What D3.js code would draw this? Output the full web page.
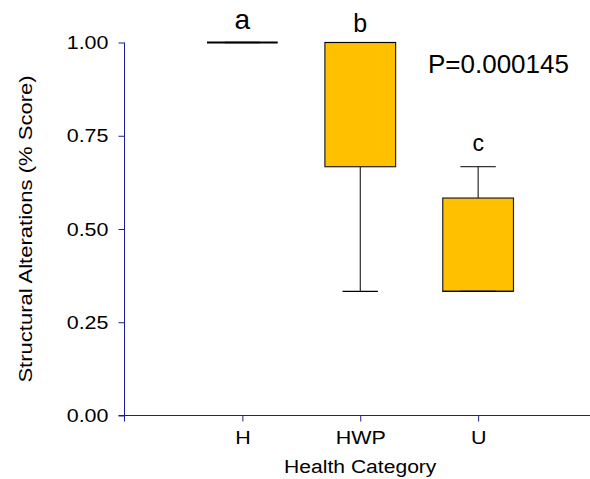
<!DOCTYPE html>
<html>
<head>
<meta charset="utf-8">
<script src="https://cdn.jsdelivr.net/npm/d3@7"></script>
<style>
  html, body { margin: 0; padding: 0; background: #fff; }
  svg { display: block; font-family: "Liberation Sans", Arial, sans-serif; }
</style>
</head>
<body>
<svg id="chart" width="590" height="479"></svg>
<script>
// Box-plot summary per health category
const categories = ["H", "HWP", "U"];
const whiskerLow = [1.0, 0.333, 0.333];
const q1 = [1.0, 0.667, 0.333];
const median = [1.0, 1.0, 0.333];
const q3 = [1.0, 1.0, 0.583];
const whiskerHigh = [1.0, 1.0, 0.667];
const groupLetters = ["a", "b", "c"];
const yTicks = [0, 0.25, 0.5, 0.75, 1.0];
const pValueLabel = "P=0.000145";

const svg = d3.select("#chart");
const axisColor = "#1c1c94";
const boxFill = "#ffc000";
const wide = 1.13;  // horizontal stretch of the label type

const x = d3.scaleLinear().domain([0, 4]).range([124.5, 596]);
const y = d3.scaleLinear().domain([0, 1]).range([415.5, 42.5]);

const boxW = 0.6;   // box width in category units
const capW = 0.3;   // whisker cap width in category units

const data = categories.map((c, i) => ({
  cat: c, i: i + 1,
  lo: whiskerLow[i], q1: q1[i], med: median[i], q3: q3[i], hi: whiskerHigh[i],
  letter: groupLetters[i]
}));

// Axes
const yAxis = d3.axisLeft(y).tickValues(yTicks).tickFormat(d3.format(".2f")).tickSize(6).tickPadding(9);
const gy = svg.append("g").attr("transform", `translate(${x(0)},0)`).call(yAxis);
gy.select(".domain").remove();
gy.append("line").attr("x1", 0).attr("x2", 0).attr("y1", y(0) + 6).attr("y2", y(1))
  .attr("stroke", axisColor);
gy.selectAll(".tick line").attr("stroke", axisColor);
gy.selectAll(".tick text").attr("fill", "#000").attr("font-size", 19)
  .attr("font-family", "Liberation Sans, Arial, sans-serif")
  .attr("x", 0).attr("transform", `translate(-16,0) scale(${wide},1)`);

const xAxis = d3.axisBottom(x).tickValues([1, 2, 3]).tickFormat(d => categories[d - 1])
  .tickSize(6).tickPadding(9);
const gx = svg.append("g").attr("transform", `translate(0,${y(0)})`).call(xAxis);
gx.select(".domain").remove();
gx.append("line").attr("x1", x(0) - 6).attr("x2", 590).attr("y1", 0).attr("y2", 0)
  .attr("stroke", axisColor);
gx.selectAll(".tick line").attr("stroke", axisColor);
gx.selectAll(".tick text").attr("fill", "#000").attr("font-size", 19)
  .attr("font-family", "Liberation Sans, Arial, sans-serif")
  .attr("y", 0).attr("transform", `translate(0,15) scale(${wide},1)`);

// Axis titles
svg.append("text")
  .attr("transform", `translate(32,${(y(0) + y(1)) / 2}) rotate(-90) scale(1.16,1)`)
  .attr("text-anchor", "middle").attr("font-size", 19).text("Structural Alterations (% Score)");
svg.append("text")
  .attr("transform", `translate(${x(2)},472.5) scale(1.11,1)`)
  .attr("text-anchor", "middle").attr("font-size", 19).text("Health Category");

// Boxes
const g = svg.append("g").selectAll("g").data(data).join("g");

// whiskers
g.append("line")
  .attr("x1", d => x(d.i)).attr("x2", d => x(d.i))
  .attr("y1", d => y(d.q3)).attr("y2", d => y(d.hi)).attr("stroke", "#000");
g.append("line")
  .attr("x1", d => x(d.i)).attr("x2", d => x(d.i))
  .attr("y1", d => y(d.q1)).attr("y2", d => y(d.lo)).attr("stroke", "#000");

// box body
g.filter(d => d.q3 > d.q1).append("rect")
  .attr("x", d => x(d.i - boxW / 2)).attr("width", d => x(d.i + boxW / 2) - x(d.i - boxW / 2))
  .attr("y", d => y(d.q3)).attr("height", d => y(d.q1) - y(d.q3))
  .attr("fill", boxFill).attr("stroke", "#222").attr("stroke-width", 1.2);

// whisker caps
g.filter(d => d.hi > d.q3 || d.q3 === d.q1).append("line")
  .attr("x1", d => x(d.i - capW / 2)).attr("x2", d => x(d.i + capW / 2))
  .attr("y1", d => y(d.hi)).attr("y2", d => y(d.hi)).attr("stroke", "#000");
g.append("line")
  .attr("x1", d => x(d.i - capW / 2)).attr("x2", d => x(d.i + capW / 2))
  .attr("y1", d => y(d.lo)).attr("y2", d => y(d.lo)).attr("stroke", "#000").attr("stroke-width", 1.3);

// median line
g.append("line")
  .attr("x1", d => x(d.i - boxW / 2)).attr("x2", d => x(d.i + boxW / 2))
  .attr("y1", d => y(d.med)).attr("y2", d => y(d.med))
  .attr("stroke", "#000").attr("stroke-width", d => d.q3 === d.q1 ? 2.2 : 1);

// significance letters above each group
const letterSize = { a: 28, b: 25, c: 23 };
const letterGap = { a: 14, b: 11, c: 15.5 };
g.append("text")
  .attr("x", d => x(d.i)).attr("y", d => y(d.hi) - letterGap[d.letter])
  .attr("text-anchor", "middle").attr("font-size", d => letterSize[d.letter])
  .text(d => d.letter);

// test statistic
svg.append("text").attr("transform", "translate(428,72.5) scale(1.04,1)")
  .attr("font-size", 25).text(pValueLabel);
</script>
</body>
</html>
